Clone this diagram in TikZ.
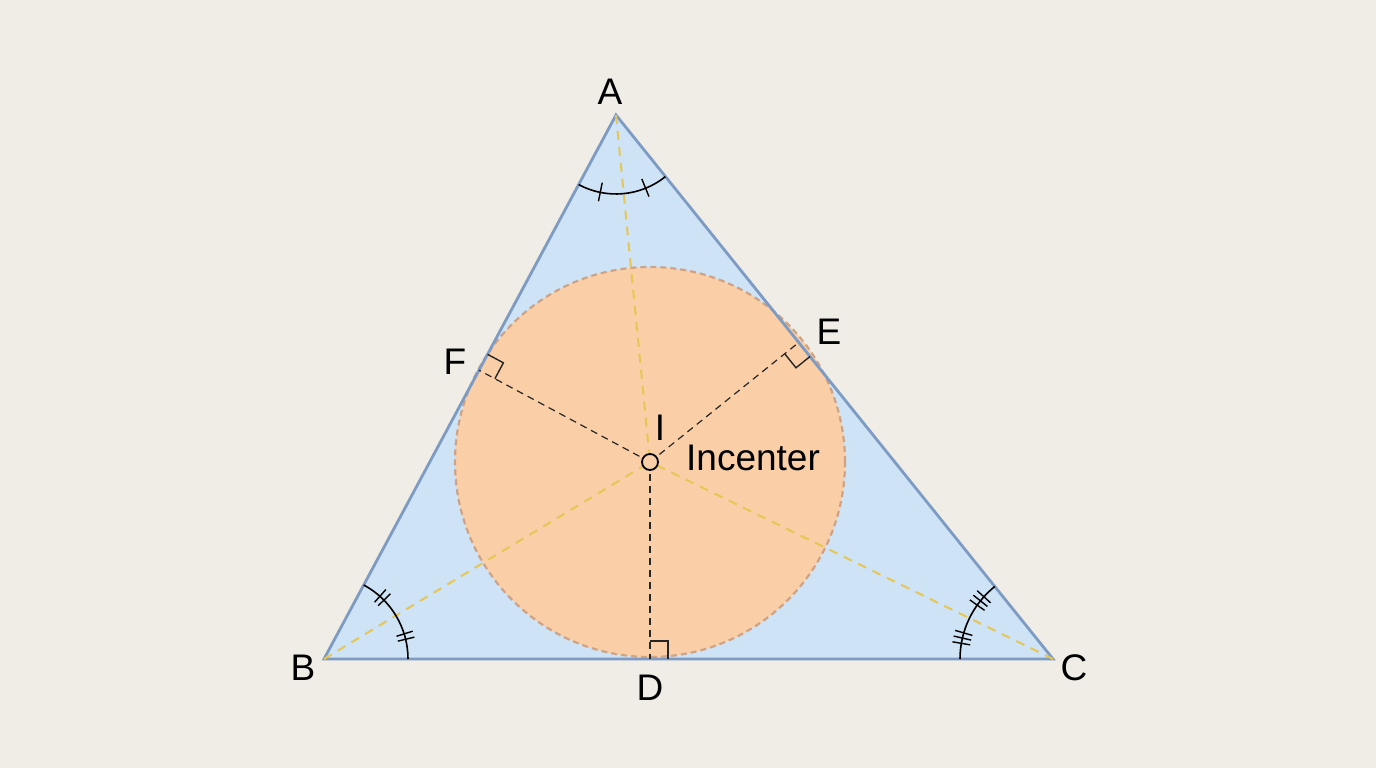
\documentclass[tikz,border=0pt]{standalone}
\usepackage{fontspec}
\setmainfont{Liberation Sans}
\usetikzlibrary{calc}
\definecolor{bg}{RGB}{240,237,231}
\definecolor{trifill}{RGB}{206,227,245}
\definecolor{tristroke}{RGB}{125,155,195}
\definecolor{circfill}{RGB}{250,207,167}
\definecolor{circstroke}{RGB}{200,150,118}
\definecolor{bisect}{RGB}{230,198,85}
\tikzset{
  lbl/.style={inner sep=0pt, font=\fontsize{37}{40}\selectfont},
  bisector/.style={draw=bisect, line width=2pt, dash pattern=on 9pt off 7pt},
  radius line/.style={draw=black!85, line width=1.2pt, dash pattern=on 7pt off 5pt},
  anglemark/.style={draw=black, line width=1.6pt},
  rightmark/.style={draw=black!85, line width=1.4pt},
}
\begin{document}
\begin{tikzpicture}[x=1pt,y=1pt]
\fill[bg] (0,0) rectangle (1376,768);
\useasboundingbox (0,0) rectangle (1376,768);
% points
\coordinate (A) at (616,653);
\coordinate (B) at (324,109);
\coordinate (C) at (1053,109);
\coordinate (I) at (650,306);
\coordinate (D) at ($(B)!(I)!(C)$);
\coordinate (E) at ($(A)!(I)!(C)$);
\coordinate (F) at ($(A)!(I)!(B)$);
% triangle fill
\fill[trifill] (A) -- (B) -- (C) -- cycle;
% incircle
\fill[circfill] (I) circle[radius=195];
\draw[circstroke, line width=2.2pt, dash pattern=on 6pt off 4pt, opacity=0.8] (I) circle[radius=195];
% triangle outline
\draw[tristroke, line width=2.8pt, line join=miter] (A) -- (B) -- (C) -- cycle;
% angle bisectors
\draw[bisector] (A) -- (I);
\draw[bisector] (B) -- (I);
\draw[bisector] (C) -- (I);
% radii
\draw[radius line] (I) -- (D);
\draw[radius line] (I) -- (E);
\draw[radius line] (I) -- (F);
% angle arcs
\draw[anglemark] ($(A)+(241.8:79)$) arc[start angle=241.8, end angle=308.7, radius=79];
\draw[anglemark] ($(B)+(0:84)$) arc[start angle=0, end angle=61.8, radius=84];
\draw[anglemark] ($(C)+(128.7:93)$) arc[start angle=128.7, end angle=180, radius=93];
% ticks at A (single)
\foreach \t in {258.5,292.0}
  \draw[anglemark,line width=1.4pt] ($(A)+(\t:69)$) -- ($(A)+(\t:88)$);
% ticks at B (double)
\foreach \t in {15.5,46.4}
  \foreach \d in {-1.9,1.9}
    \draw[anglemark,line width=1.4pt] ($(B)+(\t+\d:76)$) -- ($(B)+(\t+\d:93)$);
% ticks at C (triple)
\foreach \t in {141.3,167.0}
  \foreach \d in {-3.3,0,3.3}
    \draw[anglemark,line width=1.4pt] ($(C)+(\t+\d:84)$) -- ($(C)+(\t+\d:102)$);
% right-angle marks
\coordinate (D1) at ($(D)!18pt!(C)$);
\coordinate (D2) at ($(D)!18pt!(I)$);
\draw[rightmark] (D2) -- ($(D1)+(D2)-(D)$) -- (D1);
\coordinate (E1) at ($(E)!18pt!(C)$);
\coordinate (E2) at ($(E)!18pt!(I)$);
\draw[rightmark] (E2) -- ($(E1)+(E2)-(E)$) -- (E1);
\coordinate (F1) at ($(F)!18pt!(A)$);
\coordinate (F2) at ($(F)!18pt!(I)$);
\draw[rightmark] (F2) -- ($(F1)+(F2)-(F)$) -- (F1);
% incenter point
\draw[black, line width=1.8pt, fill=circfill] (I) circle[radius=8];
% labels
\node[lbl] (lA) at (610,676) {A};
\node[lbl] (lB) at (303,100) {B};
\node[lbl] (lC) at (1074,100) {C};
\node[lbl] (lD) at (650,80) {D};
\node[lbl] (lE) at (829,436) {E};
\node[lbl] (lF) at (455,406) {F};
\node[lbl] (lI) at (660,340) {I};
\node[lbl] (lInc) at (753,310) {Incenter};
\end{tikzpicture}
\end{document}
